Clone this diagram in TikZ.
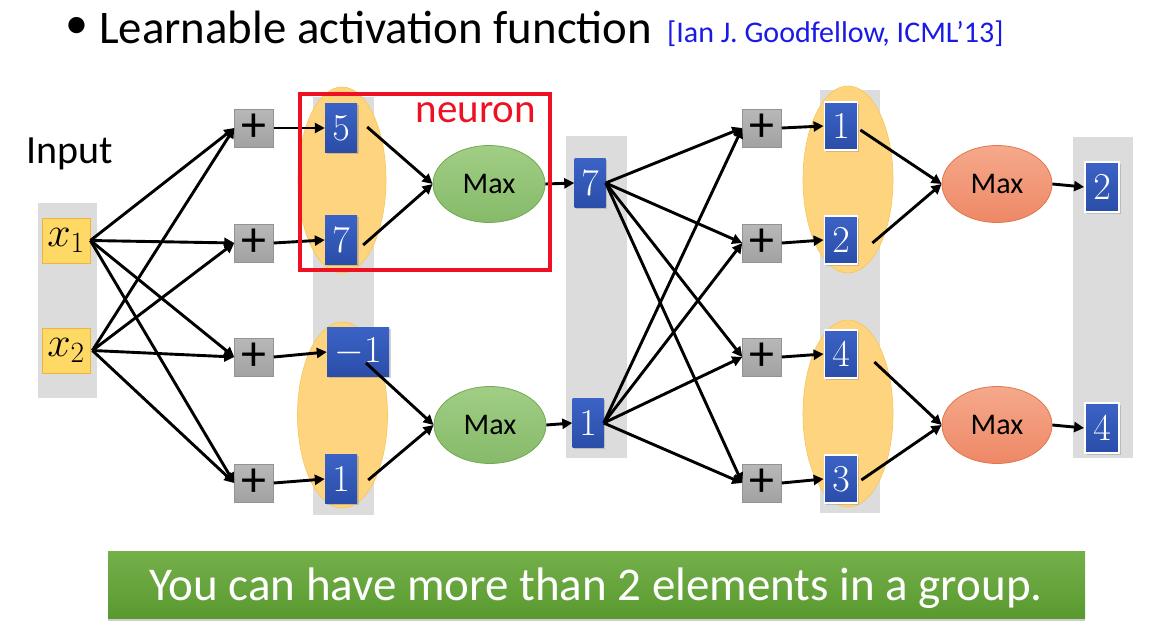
\RequirePackage{fix-cm}
\documentclass[tikz,border=0pt]{standalone}
\usepackage{fontspec}
\setmainfont{Carlito}
\usetikzlibrary{arrows.meta,shapes.geometric,shadows,calc}

\definecolor{colgray}{HTML}{DCDCDC}
\definecolor{grporange}{HTML}{FFD47E}
\definecolor{grpedge}{HTML}{F8C556}
\definecolor{inyellow}{HTML}{FFD966}
\definecolor{inedge}{HTML}{F2B33D}
\definecolor{plustop}{HTML}{B8B8B8}
\definecolor{plusbot}{HTML}{A2A2A2}
\definecolor{plusedge}{HTML}{939393}
\definecolor{bluetop}{HTML}{3B63C6}
\definecolor{bluebot}{HTML}{2A4DA8}
\definecolor{greentop}{HTML}{A0CE85}
\definecolor{greenbot}{HTML}{86BA69}
\definecolor{greenedge}{HTML}{73A956}
\definecolor{salmontop}{HTML}{F5A98B}
\definecolor{salmonbot}{HTML}{EE8866}
\definecolor{salmonedge}{HTML}{E0774F}
\definecolor{neured}{HTML}{EE1122}
\definecolor{citeblue}{HTML}{1A1AE6}
\definecolor{bantop}{HTML}{74B04A}
\definecolor{banbot}{HTML}{5A9930}

\begin{document}
\begin{tikzpicture}[x=1pt,y=-1pt,
  txt/.style={inner sep=0pt},
  col/.style={rectangle, fill=colgray, draw=none, inner sep=0pt},
  grp/.style={ellipse, fill=grporange, draw=grpedge, line width=0.6pt, inner sep=0pt},
  inbox/.style={rectangle, fill=inyellow, draw=inedge, line width=0.8pt, inner sep=0pt,
    minimum width=48pt, minimum height=45pt, font=\fontsize{42}{42}\selectfont},
  plusbox/.style={rectangle, top color=plustop, bottom color=plusbot, draw=plusedge,
    line width=0.5pt, inner sep=0pt, minimum width=39pt, minimum height=38pt,
    font=\fontsize{50}{50}\selectfont},
  valbox/.style={rectangle, top color=bluetop, bottom color=bluebot, inner sep=0pt,
    minimum height=49pt, minimum width=32pt, text=white, font=\fontsize{38}{38}\selectfont,
    drop shadow={opacity=0.35, shadow xshift=1.5pt, shadow yshift=-1.5pt}},
  framed/.style={draw=white, line width=1.8pt},
  maxg/.style={ellipse, top color=greentop, bottom color=greenbot, draw=greenedge,
    line width=0.8pt, inner sep=0pt, minimum width=112pt, minimum height=77pt,
    font=\fontsize{30}{30}\selectfont},
  maxr/.style={ellipse, top color=salmontop, bottom color=salmonbot, draw=salmonedge,
    line width=0.8pt, inner sep=0pt, minimum width=110pt, minimum height=77pt,
    font=\fontsize{30}{30}\selectfont},
  arr/.style={draw=black, line width=2.9pt, -{Triangle[length=10pt,width=10pt]}},
]
\useasboundingbox (0,0) rectangle (1160,642);
\fill[white] (0,0) rectangle (1160,642);

% title line
\node[txt, font=\fontsize{46}{46}\selectfont] (bullet) at (77,28) {•};
\node[txt, anchor=base west, font=\fontsize{46.8}{46.8}\selectfont] (title) at (99,44) {Learnable activation function};
\node[txt, anchor=base west, text=citeblue, font=\fontsize{30}{30}\selectfont] (cite) at (667,43) {[Ian J. Goodfellow, ICML’13]};

% layer columns
\node[col, minimum width=59pt, minimum height=195pt] (c0) at (67.5,300.5) {};
\node[col, minimum width=61pt, minimum height=418pt] (c1) at (343.5,306) {};
\node[col, minimum width=61pt, minimum height=322pt] (c2) at (596.5,297) {};
\node[col, minimum width=60pt, minimum height=423pt] (c3) at (850,301.5) {};
\node[col, minimum width=60pt, minimum height=321pt] (c4) at (1103,297.5) {};

% groups
\node[grp, minimum width=88pt, minimum height=186pt] (g1) at (342,180) {};
\node[grp, minimum width=90pt, minimum height=186pt] (g2) at (342.5,415) {};
\node[grp, minimum width=90pt, minimum height=187pt] (g3) at (848,179.5) {};
\node[grp, minimum width=90pt, minimum height=187pt] (g4) at (848,413.5) {};

% input
\node[txt, anchor=base west, font=\fontsize{40}{40}\selectfont] (input) at (26,163) {Input};
\node[inbox] (x1) at (66,240.5) {$x_1$};
\node[inbox] (x2) at (66,350.5) {$x_2$};

% first layer
\foreach \i/\y in {1/128,2/243,3/357,4/483}
  \node[plusbox] (p\i) at (254,\y) {+};
\node[valbox] (v1) at (341,128) {$5$};
\node[valbox] (v2) at (341,240) {$7$};
\node[valbox, minimum width=62pt] (v3) at (358,352) {$-1$};
\node[valbox] (v4) at (341,479) {$1$};
\node[maxg] (m1) at (489,184) {Max};
\node[maxg] (m2) at (490,425) {Max};
\node[valbox, minimum width=31pt] (h1) at (590,183) {$7$};
\node[valbox, minimum width=31pt] (h2) at (588,423) {$1$};

% second layer
\foreach \i/\y in {1/128,2/243,3/357,4/483}
  \node[plusbox] (q\i) at (762,\y) {+};
\node[valbox, framed, minimum width=33pt, minimum height=48pt] (w1) at (841,126) {$1$};
\node[valbox, framed, minimum width=33pt, minimum height=48pt] (w2) at (841,240) {$2$};
\node[valbox, framed, minimum width=33pt, minimum height=48pt] (w3) at (841,354) {$4$};
\node[valbox, framed, minimum width=33pt, minimum height=48pt] (w4) at (841,479) {$3$};
\node[maxr] (r1) at (997,184) {Max};
\node[maxr] (r2) at (997,425) {Max};
\node[valbox, framed, minimum width=34pt, minimum height=50pt] (o1) at (1102,187) {$2$};
\node[valbox, framed, minimum width=34pt, minimum height=50pt] (o2) at (1102,428) {$4$};

% connections: inputs to first sums
\foreach \i in {1,...,4} {
  \draw[arr] (x1.east) -- (p\i.west);
  \draw[arr] ([xshift=2pt]x2.east) -- (p\i.west);
  \draw[arr] (p\i.east) -- (v\i.west);
}
\draw[arr] ($(v1.east)+(10,-1)$) -- (m1.west);
\draw[arr] ($(v2.east)+(6,5)$) -- (m1.west);
\draw[arr] ($(v3.center)+(8,11)$) -- (m2.west);
\draw[arr] ($(v4.east)+(11,1)$) -- (m2.west);
\draw[arr] (m1.east) -- (h1.west);
\draw[arr] (m2.east) -- (h2.west);

% hidden to second sums
\foreach \i in {1,...,4} {
  \draw[arr] (h1.east) -- (q\i.west);
  \draw[arr] (h2.east) -- (q\i.west);
  \draw[arr] (q\i.east) -- (w\i.west);
}
\draw[arr] ($(w1.east)+(2,4)$) -- (r1.west);
\draw[arr] ($(w2.east)+(14,3)$) -- (r1.west);
\draw[arr] ($(w3.east)+(16,8)$) -- (r2.west);
\draw[arr] ($(w4.east)+(3,1)$) -- (r2.west);
\draw[arr] (r1.east) -- (o1.west);
\draw[arr] (r2.east) -- (o2.west);

% neuron frame
\node[draw=neured, line width=4pt, minimum width=250pt, minimum height=176pt, inner sep=0pt] (nbox) at (425,182) {};
\node[txt, text=neured, font=\fontsize{41}{41}\selectfont] (nlabel) at (476,113) {neuron};

% banner
\node[rectangle, minimum width=977pt, minimum height=67pt, inner sep=0pt,
  top color=bantop, bottom color=banbot, draw=none,
  drop shadow={opacity=0.4, shadow xshift=0pt, shadow yshift=-3pt}] (banner) at (596.5,584.5) {};
\node[txt, anchor=base, text=white, font=\fontsize{47}{47}\selectfont] (bantext) at (596,600)
  {You can have more than 2 elements in a group.};
\end{tikzpicture}
\end{document}
